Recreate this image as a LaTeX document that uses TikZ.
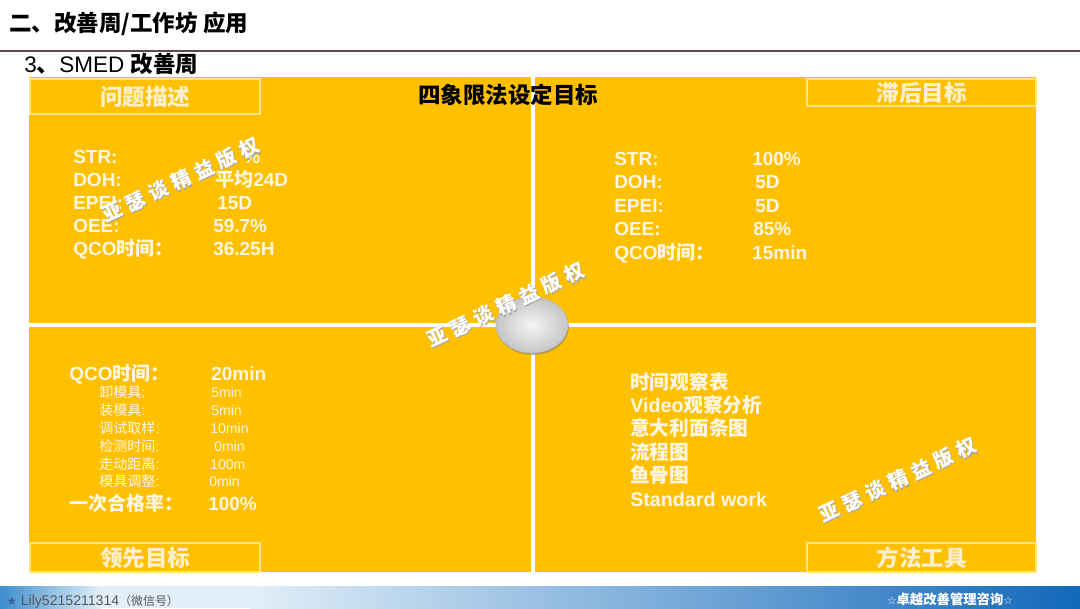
\documentclass[tikz,border=0pt]{standalone}
\usepackage{fontspec}
\setmainfont{Liberation Sans}
\newfontfamily\zhfont{Noto Sans CJK SC}
\newfontfamily\stampfont[LetterSpace=28]{Noto Sans CJK SC}
\newfontfamily\symbfont{DejaVu Sans}
\newcommand{\zh}[1]{{\zhfont #1}}
\usetikzlibrary{shapes.geometric,shadows}
\definecolor{gold}{RGB}{255,192,0}
\definecolor{paleline}{RGB}{255,226,140}
\definecolor{cream}{RGB}{255,240,205}
\definecolor{chalk}{RGB}{255,247,228}
\definecolor{rulebrown}{RGB}{95,72,72}
\definecolor{barblue}{RGB}{62,142,205}
\definecolor{barpale}{RGB}{226,239,248}
\definecolor{bardeep}{RGB}{18,104,186}
\definecolor{inkgray}{RGB}{88,88,92}
\definecolor{starblue}{RGB}{55,95,155}
\tikzset{
  heading/.style={anchor=base west,inner sep=0pt,font=\bfseries\fontsize{16}{19}\selectfont},
  board title/.style={inner sep=0pt,text=black,font=\zhfont\bfseries\fontsize{16}{19}\selectfont},
  tagbox/.style={draw=paleline,fill=gold,line width=0.8pt,inner sep=0pt,text=cream,
    font=\zhfont\bfseries\fontsize{16}{19}\selectfont},
  item/.style={anchor=base west,inner sep=0pt,text=chalk,font=\bfseries\fontsize{13.5}{16}\selectfont},
  subitem/.style={anchor=base west,inner sep=0pt,text=chalk,font=\fontsize{10}{12}\selectfont},
  divider/.style={white,line width=2.2pt},
  hub/.style={ellipse,draw=gray!55,line width=0.4pt,inner color=gray!8,outer color=gray!45,
    minimum width=1.8cm,minimum height=1.4cm,
    drop shadow={opacity=0.6,shadow xshift=0.6pt,shadow yshift=-1.3pt}},
  stamp/.style={rotate=25,inner sep=0pt,text=white,font=\stampfont\bfseries\fontsize{14}{16}\selectfont},
  stamp shadow/.style={stamp,text=gray!70},
  footnote/.style={anchor=base west,inner sep=0pt,text=inkgray,font=\fontsize{10}{12}\selectfont},
  brand/.style={anchor=base,inner sep=0pt,text=white,font=\zhfont\bfseries\fontsize{9.5}{11}\selectfont},
}

\begin{document}
\begin{tikzpicture}[x=0.025cm,y=-0.025cm]
  \useasboundingbox (0,0) rectangle (1080,608);
  \fill[white] (0,0) rectangle (1080,608);

  \node[heading] (title) at (9,31) {\zh{二、改善周/工作坊 应用}};
  \draw[rulebrown,line width=1.1pt] (0,51) -- (1080,51);
  \node[heading] (subtitle) at (24,72) {{\mdseries 3}\zh{、}{\mdseries SMED }\zh{改善周}};

  % quadrant board
  \fill[gold] (29,77) rectangle (1036,572);
  \draw[divider] (533,77) -- (533,572);
  \draw[divider] (29,325) -- (1036,325);
  \node[tagbox,minimum width=5.75cm,minimum height=8.75mm] (tagNow) at (145,96.5) {问题描述};
  \node[tagbox,minimum width=5.725cm,minimum height=6.75mm] (tagLag) at (921.5,92.5) {滞后目标};
  \node[tagbox,minimum width=5.75cm,minimum height=7.25mm] (tagLead) at (145,557.5) {领先目标};
  \node[tagbox,minimum width=5.725cm,minimum height=7.25mm] (tagTool) at (921.5,557.5) {方法工具};
  \node[board title] (plan) at (508,95) {四象限法设定目标};
  \node[hub] (hub) at (532,325) {};

  \foreach \lab/\val/\vx [count=\i] in {STR:/\%/243, DOH:/\zh{平均}24D/215, EPEI:/15D/217,
      OEE:/59.7\%/213, QCO\zh{时间：}/36.25H/213}{
    \node[item] (nowL\i) at (73,140+23*\i) {\lab};
    \node[item] (nowV\i) at (\vx,140+23*\i) {\val};
  }
  \foreach \lab/\val/\vx [count=\i] in {STR:/100\%/752, DOH:/5D/755, EPEI:/5D/755,
      OEE:/85\%/753, QCO\zh{时间：}/15min/752}{
    \node[item] (lagL\i) at (614,141.5+23.5*\i) {\lab};
    \node[item] (lagV\i) at (\vx,141.5+23.5*\i) {\val};
  }

  \node[item] (leadQ) at (69,380) {QCO\zh{时间：}};
  \node[item] (leadQv) at (211,380) {20min};
  \foreach \lab/\val/\vx [count=\i] in {卸模具/5min/211, 装模具/5min/211, 调试取样/10min/210,
      检测时间/0min/214, 走动距离/100m/210, 模具调整/0min/209}{
    \node[subitem] (leadL\i) at (99,380+17.8*\i) {\zh{\lab}:};
    \node[subitem] (leadV\i) at (\vx,380+17.8*\i) {\val};
  }
  \node[item] (leadP) at (69,510) {\zh{一次合格率：}};
  \node[item] (leadPv) at (208,510) {100\%};

  \foreach \tool [count=\i] in {\zh{时间观察表}, Video\zh{观察分析}, \zh{意大利面条图},
      \zh{流程图}, \zh{鱼骨图}, Standard work}{
    \node[item,font=\bfseries\fontsize{14}{16}\selectfont] (tool\i) at (630,365.6+23.4*\i) {\tool};
  }

  \foreach \wx/\wy [count=\k] in {181/180, 506/305, 898/480}{
    \node[stamp shadow] (markS\k) at (\wx+1,\wy+1.2) {亚瑟谈精益版权};
    \node[stamp] (mark\k) at (\wx,\wy) {亚瑟谈精益版权};
  }

  % footer bar
  \shade[left color=barblue,right color=barpale] (0,586) rectangle (101,608);
  \fill[barpale] (100,586) rectangle (251,608);
  \shade[left color=barpale,right color=bardeep] (250,586) rectangle (1080,608);
  \node[footnote] (wechat) at (6,605) {{\symbfont\fontsize{8.5}{9}\selectfont\color{starblue}★} Lily5215211314\zh{\fontsize{8.5}{10}\selectfont （微信号）}};
  \node[brand] (brand) at (950,604) {{\symbfont\mdseries\fontsize{7.5}{9}\selectfont ☆}卓越改善管理咨询{\symbfont\mdseries\fontsize{7.5}{9}\selectfont ☆}};
\end{tikzpicture}
\end{document}
